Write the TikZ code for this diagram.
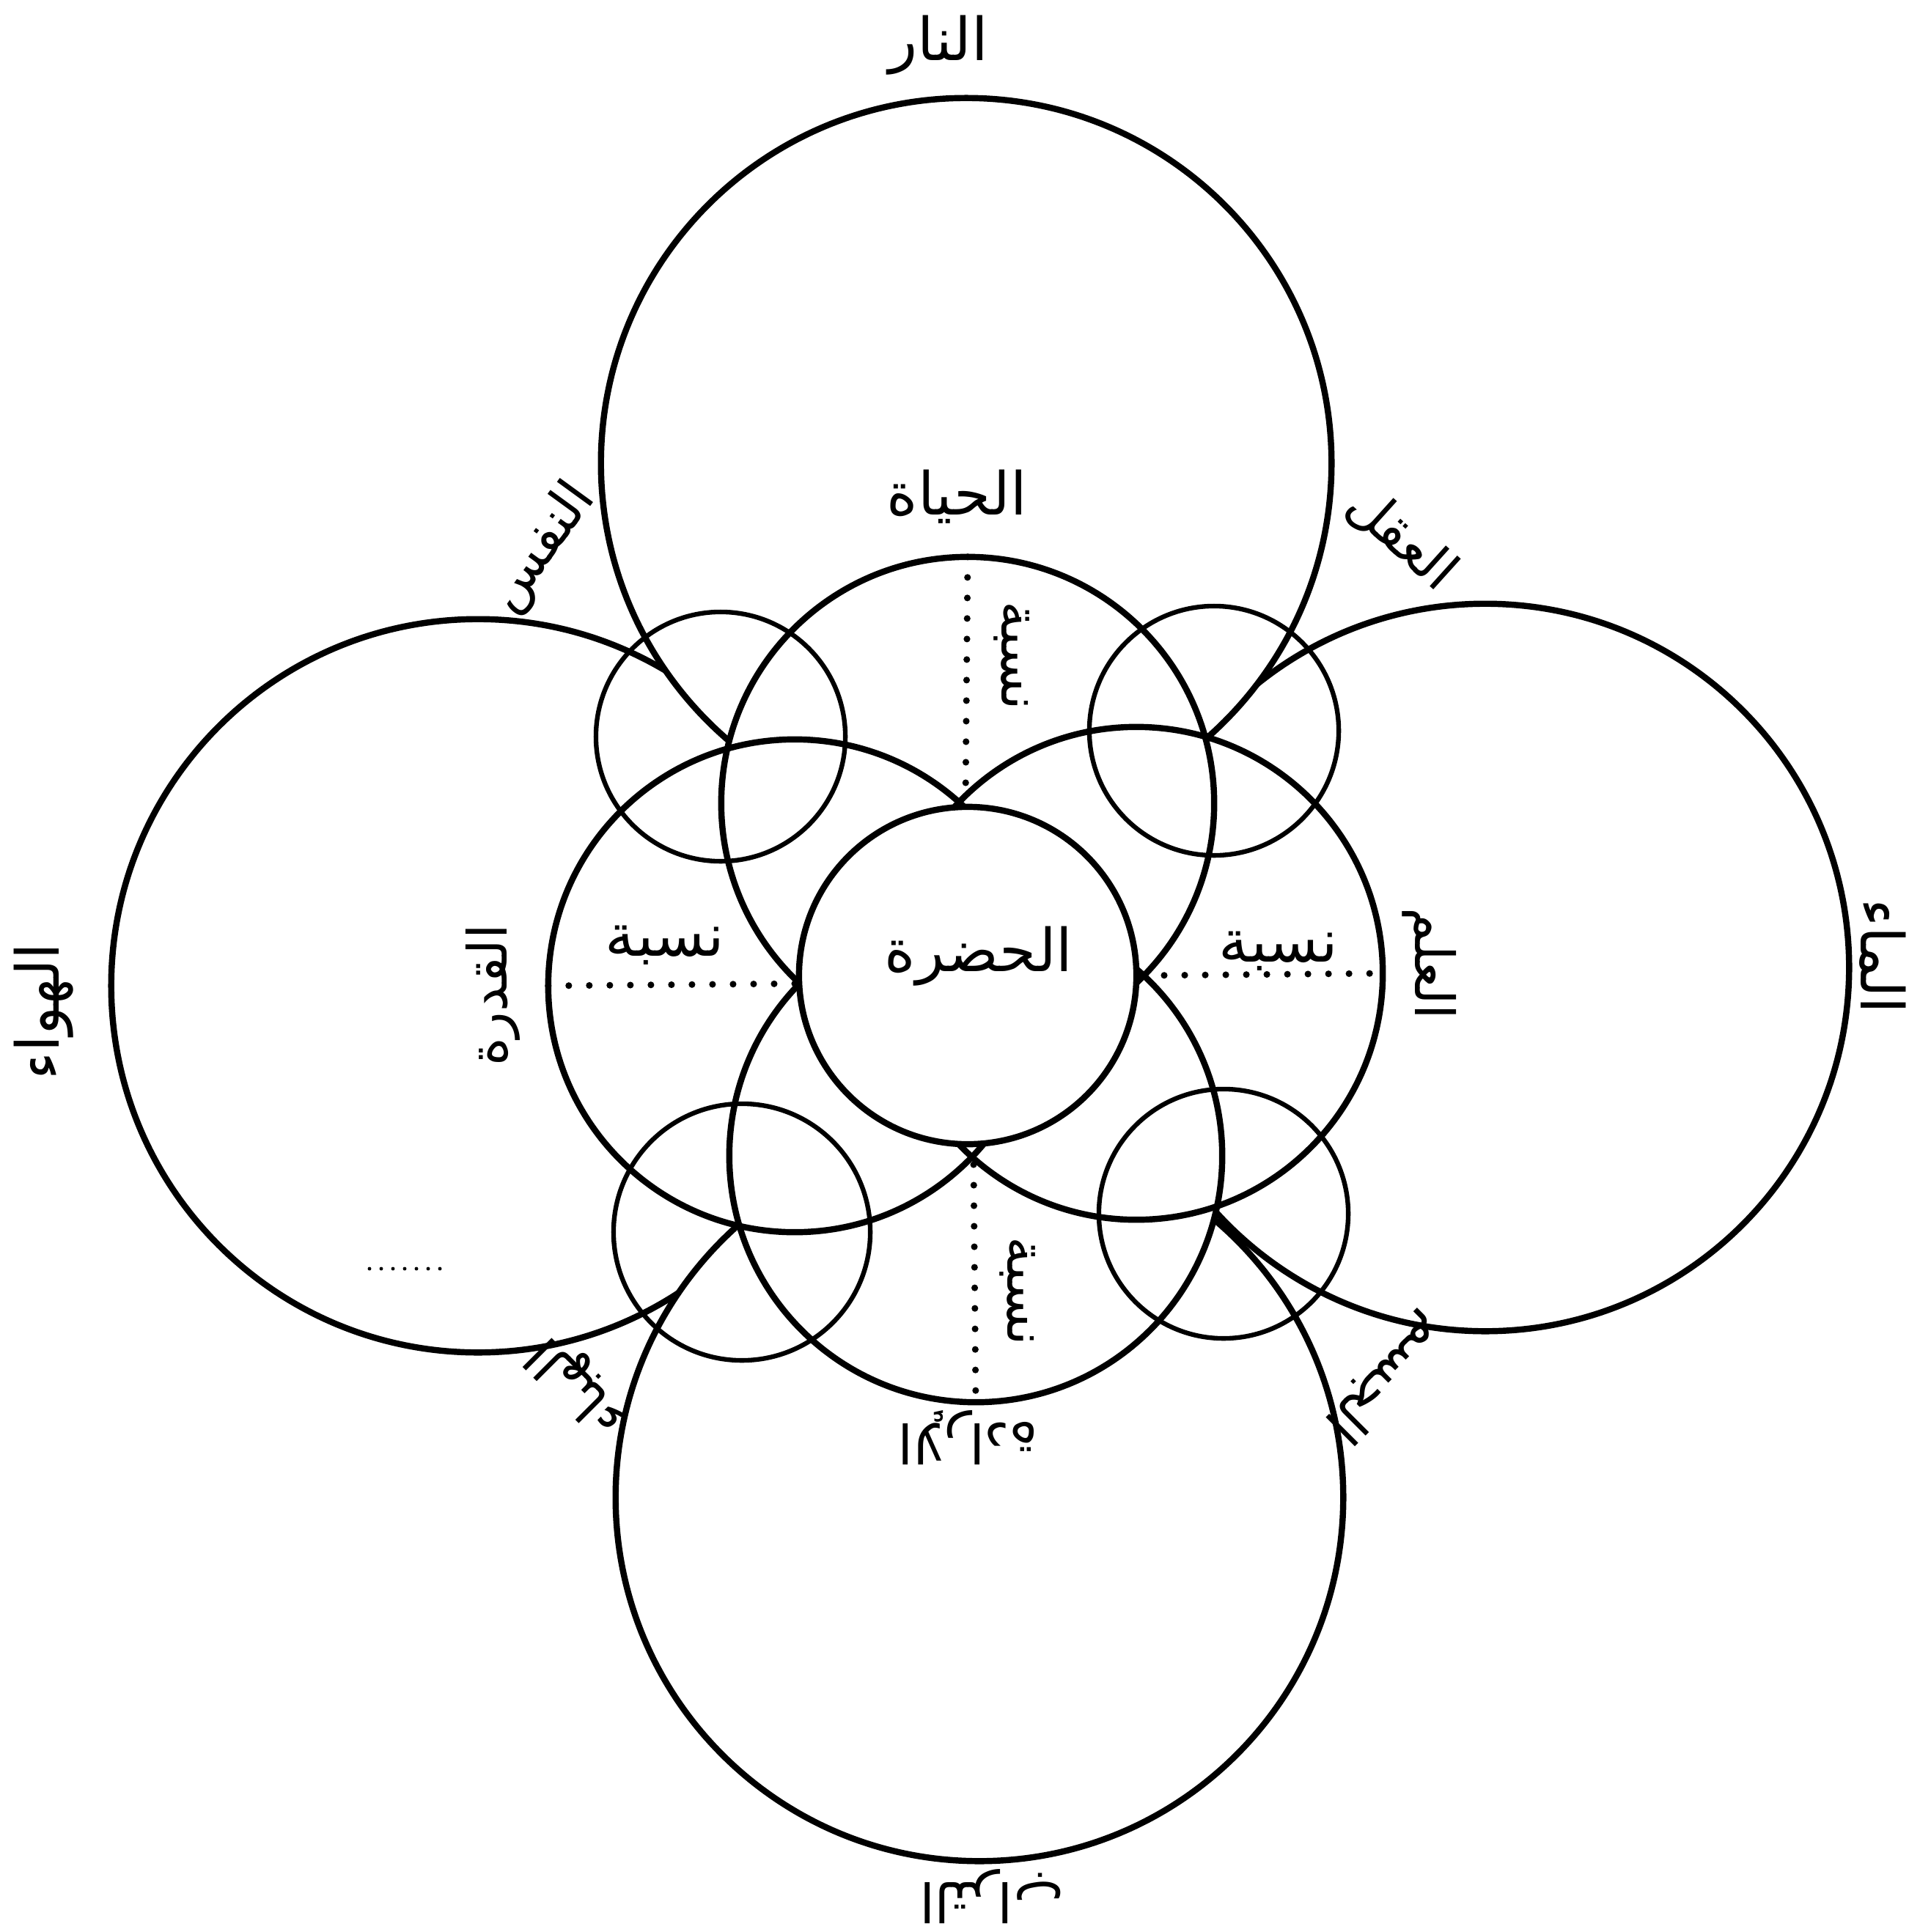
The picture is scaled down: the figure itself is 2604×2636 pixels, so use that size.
\documentclass[tikz,border=0pt]{standalone}
\usepackage{fontspec}
\TeXXeTstate=1
\newfontfamily\arabicfont[Script=Arabic]{DejaVu Sans}
\begin{document}
\begin{tikzpicture}[x=0.01cm,y=-0.01cm,
  bigc/.style={circle, draw, fill=white, line width=2.4pt, inner sep=0pt, outer sep=0pt},
  midfill/.style={circle, fill=white, inner sep=0pt, outer sep=0pt, minimum size=6.72cm},
  midc/.style={circle, draw, line width=2.4pt, inner sep=0pt, outer sep=0pt, minimum size=6.72cm},
  smallc/.style={circle, draw, line width=1.8pt, inner sep=0pt, outer sep=0pt, minimum size=3.4cm},
  centc/.style={circle, draw, fill=white, line width=2.4pt, inner sep=0pt, outer sep=0pt, minimum size=4.6cm},
  dots/.style={line width=2.6pt, line cap=round, dash pattern=on 0pt off 0.28cm},
  faintdots/.style={line width=1.4pt, line cap=round, dash pattern=on 0pt off 0.16cm},
  lab/.style={font=\arabicfont\fontsize{23}{27}\selectfont, inner sep=0pt},
  slab/.style={font=\arabicfont\fontsize{21}{25}\selectfont, inner sep=0pt}]
\useasboundingbox (0,0) rectangle (2604,2636);
\fill[white] (0,0) rectangle (2604,2636);
% big circles
\node[bigc, minimum size=10cm]   (BL) at (652,1345) {};
\node[bigc, minimum size=9.92cm] (BR) at (2026,1320) {};
\node[bigc, minimum size=9.96cm] (BT) at (1318,632) {};
\node[bigc, minimum size=9.92cm] (BB) at (1336,2043) {};
% middle circles: fills then outlines
\node[midfill] (MTf) at (1320,1096) {};
\node[midfill] (MBf) at (1331,1577) {};
\node[midfill] (MLf) at (1084,1345) {};
\node[midfill] (MRf) at (1550,1328) {};
\node[midc] (MT) at (1320,1096) {};
\node[midc] (MB) at (1331,1577) {};
\node[midc] (ML) at (1084,1345) {};
\node[midc] (MR) at (1550,1328) {};
% small circles
\node[smallc] (STL) at (983,1005) {};
\node[smallc] (STR) at (1656,997) {};
\node[smallc, minimum size=3.5cm] (SBL) at (1012,1681) {};
\node[smallc] (SBR) at (1669,1656) {};
% centre
\node[centc] (C) at (1320,1331) {};
% dotted lines
\coordinate (xt) at (1317,1094);
\coordinate (xb) at (1328,1589);
\coordinate (xl) at (1091,1342);
\coordinate (xr) at (1560,1331);
\draw[dots] (MT.north) -- (xt);
\draw[dots] (xb) -- (MB.south);
\draw[dots] (ML.west) -- (xl);
\draw[dots] (xr) -- (MR.east);
\coordinate (s1) at (504,1731);
\coordinate (s2) at (614,1731);
\draw[faintdots] (s1) -- (s2);
% labels
\node[lab] (nar) at (1280,62) {\beginR النار\endR};
\node[lab] (hayat) at (1305,678) {\beginR الحياة\endR};
\node[lab] (hadra) at (1335,1305) {\beginR الحضرة\endR};
\node[slab, rotate=54] (nafs) at (740,748) {\beginR النفس\endR};
\node[slab, rotate=-42] (aql) at (1912,735) {\beginR العقل\endR};
\node[lab] (nisbaL) at (907,1290) {\beginR نسبة\endR};
\node[lab] (nisbaR) at (1744,1298) {\beginR نسبة\endR};
\node[slab, rotate=-90] (nisbaT) at (1380,895) {\beginR نسبة\endR};
\node[slab, rotate=-90] (nisbaB) at (1388,1762) {\beginR نسبة\endR};
\node[slab, rotate=90] (qudra) at (672,1358) {\beginR القدرة\endR};
\node[lab, rotate=90] (hawa) at (60,1380) {\beginR الهواء\endR};
\node[slab, rotate=-90] (ilm) at (1950,1315) {\beginR العلم\endR};
\node[lab, rotate=-90] (maa) at (2568,1305) {\beginR الماء\endR};
\node[slab, rotate=180] (irada) at (1320,1962) {\beginR الإرادة\endR};
\node[slab, rotate=180] (turab) at (1353,2588) {\beginR التراب\endR};
\node[slab, rotate=135] (haba) at (790,1890) {\beginR الهباء\endR};
\node[slab, rotate=-135] (jism) at (1890,1880) {\beginR الجسم\endR};
\end{tikzpicture}
\end{document}
